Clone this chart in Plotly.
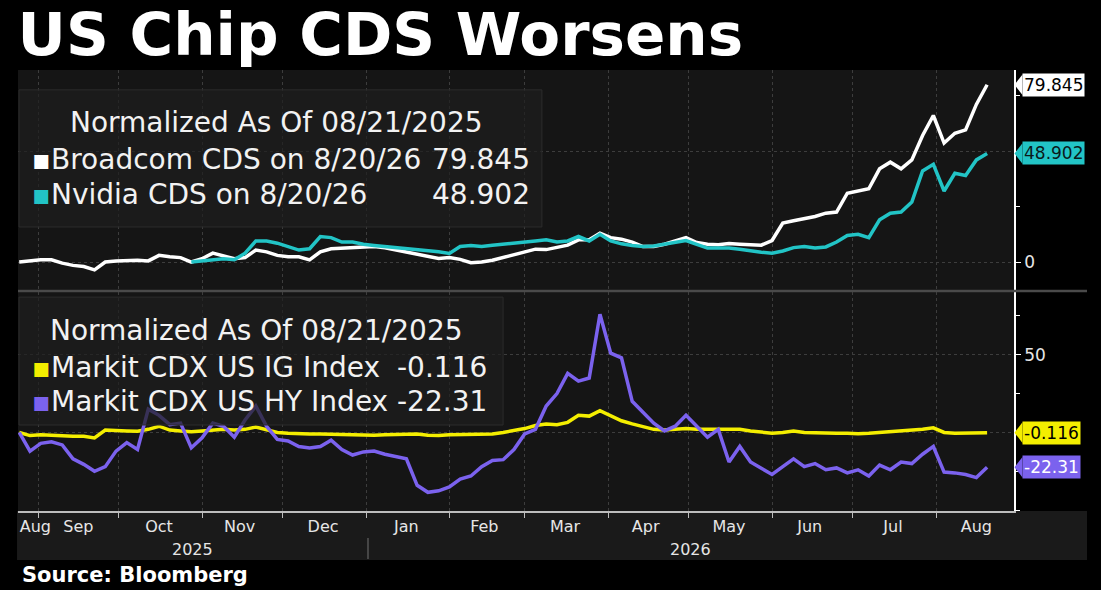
import pandas as pd
import plotly.graph_objects as go
from plotly.subplots import make_subplots

# sample dates, every 4 days
dates = pd.date_range("2025-08-25", periods=91, freq="4D")

broadcom = [0, 0.6, 1, 1, -0.5, -1.5, -2, -3.5, 0, 0.5,
            0.8, 0.8, 0.5, 3, 2.4, 2, 0, 1.5, 4, 2.8,
            1.5, 2, 5.4, 4.6, 3, 2.4, 2.4, 1, 4.6, 6,
            6.3, 6.3, 6.8, 7, 6.4, 5.5, 4.4, 3.4, 2.5, 1.6,
            2, 1.2, -0.3, 0, 0.8, 2, 3, 4.4, 5.8, 5.6,
            6.5, 7.6, 10, 10, 13, 11, 10.3, 9, 7, 7,
            8, 9.5, 11, 8.8, 8, 7.8, 8.3, 8, 7.8, 7.6,
            9.7, 17.6, 18.6, 19.4, 20.5, 22, 22.5, 31, 32, 33,
            42, 45, 42, 46, 57, 66, 53.6, 58, 59.5, 71,
            79.845]

nvidia = [None] * 16 + [
            0, 0.5, 0.8, 1.5,
            1, 4, 9.5, 9.5, 8.5, 7, 5.4, 6, 11.5, 11,
            9, 9, 8, 7.5, 7, 6.6, 6.3, 5.6, 5.2, 4.6,
            3.9, 7, 7.5, 7, 7.6, 8, 8.5, 9, 9.5, 10,
            9, 9.5, 11.5, 9.5, 12.5, 9.5, 8.2, 7.5, 7, 7.2,
            8, 9, 9.7, 8, 6.3, 6.3, 6.3, 5.8, 5, 4.4,
            4, 5, 6.5, 7, 6.3, 6.8, 9, 12, 12.5, 11,
            19, 22, 22.5, 27, 41, 44, 32, 40, 39, 46,
            48.902]

cdx_ig = [0, -2, -1.5, -2, -2, -2.5, -2.5, -3.5, 1.5, 1.5,
          1, 0.8, 2, 4, 1.5, 1, 0.5, 1, 1.5, 2,
          1.5, 2, 3.5, 2, 0, -0.5, -1, -1, -1, -1.2,
          -1.5, -1.5, -1.5, -1.8, -1.5, -1.5, -1.5, -1, -1.8, -2,
          -1.5, -1.5, -1, -1.5, -1, 0, 1, 2.5, 4.5, 5.5,
          5, 6.5, 11, 10.5, 14, 11, 7.5, 5.5, 3.5, 2,
          1.5, 2, 2.5, 2, 2, 2, 2.5, 2, 1, 0,
          -0.5, 0, 1, 0, -0.3, -0.5, -0.5, -0.5, -0.8, -0.5,
          0, 0.5, 1, 1, 2, 3, 0, -0.5, -0.3, 0,
          -0.116]

cdx_hy = [0, -12, -7, -6, -8, -17, -20.5, -25, -22, -12,
          -6.5, -11, 15, 11, 5, 6, -9.9, -3.5, 6, 4,
          -3, 8, 17, 4, -4.5, -5.5, -9, -10, -9, -5,
          -11, -14.5, -12.5, -12, -14, -15.5, -17, -34, -38.5, -37.5,
          -35, -30, -28, -22, -18, -17.5, -11, -1, 2, 17,
          25, 38, 33, 35, 76, 51, 48, 20, 13, 6,
          1, 4, 11, 4, -3, 2, -19, -9, -19, -23,
          -27, -22, -17, -22, -20, -24, -22.8, -26, -24, -28,
          -21, -24, -19, -20, -14, -9, -25.5, -26, -27, -29,
          -22.31]

month_starts = ["2025-09-01", "2025-10-01", "2025-11-01", "2025-12-01",
                "2026-01-01", "2026-02-01", "2026-03-01", "2026-04-01",
                "2026-05-01", "2026-06-01", "2026-07-01", "2026-08-01"]
month_label_pos = ["2025-08-31", "2025-09-16", "2025-10-16", "2025-11-15",
                   "2025-12-16", "2026-01-16", "2026-02-14", "2026-03-16",
                   "2026-04-15", "2026-05-16", "2026-06-15", "2026-07-16",
                   "2026-08-16"]
month_labels = ["Aug", "Sep", "Oct", "Nov", "Dec", "Jan", "Feb", "Mar",
                "Apr", "May", "Jun", "Jul", "Aug"]
year_labels = ["2025", "2026"]

WHITE = "#ffffff"
CYAN = "#22c4c6"
YELLOW = "#f4ee00"
PURPLE = "#7b62ee"
FONT = "DejaVu Sans"

fig = make_subplots(rows=2, cols=1, shared_xaxes=True)

fig.add_trace(go.Scatter(x=dates, y=broadcom, mode="lines",
                         line=dict(color=WHITE, width=3.5)), row=1, col=1)
fig.add_trace(go.Scatter(x=dates, y=nvidia, mode="lines",
                         line=dict(color=CYAN, width=3.5)), row=1, col=1)
fig.add_trace(go.Scatter(x=dates, y=cdx_ig, mode="lines",
                         line=dict(color=YELLOW, width=3.5)), row=2, col=1)
fig.add_trace(go.Scatter(x=dates, y=cdx_hy, mode="lines",
                         line=dict(color=PURPLE, width=3.5)), row=2, col=1)

x_range = ["2025-08-24 13:00", "2026-08-30 00:00"]
grid = dict(showgrid=True, gridcolor="#3d3d3d", griddash="dot", gridwidth=1)

fig.update_xaxes(range=x_range, showgrid=False, zeroline=False,
                 tickmode="array", tickvals=month_label_pos, ticktext=month_labels,
                 ticks="", tickfont=dict(family=FONT, size=16, color="#e6e6e6"))
fig.update_xaxes(showticklabels=False,
                 minor=dict(tickmode="array", tickvals=month_starts, ticks="", **grid),
                 row=1, col=1)
fig.update_xaxes(showline=True, linecolor="#bdbdbd", linewidth=1.5,
                 minor=dict(tickmode="array", tickvals=month_starts, ticks="outside",
                            ticklen=5, tickcolor="#bdbdbd", **grid),
                 row=2, col=1)

yax = dict(side="right", zeroline=False, showline=True, linecolor=WHITE, linewidth=1.5,
           ticks="outside", ticklen=5, tickcolor=WHITE,
           tickfont=dict(family=FONT, size=17, color="#e6e6e6"), **grid)
fig.update_yaxes(range=[-12.6, 86.5], tickmode="array", tickvals=[0, 50],
                 ticktext=["0", ""], domain=[0.5011, 1],
                 minor=dict(tickmode="array", tickvals=[25, 75], ticks="outside",
                            ticklen=4, tickcolor=WHITE, showgrid=False),
                 row=1, col=1, **yax)
fig.update_yaxes(range=[-50.5, 90.3], tickmode="array", tickvals=[0, 50],
                 ticktext=["", "50"], domain=[0, 0.4966],
                 minor=dict(tickmode="array", tickvals=[-50, -25, 25, 75],
                            ticks="outside", ticklen=4, tickcolor=WHITE, showgrid=False),
                 row=2, col=1, **yax)

shapes = []
annotations = []

# x-axis label band, panel separator, year divider
shapes.append(dict(type="rect", xref="paper", yref="paper", x0=-0.001, x1=1.0733,
                   y0=-0.111, y1=0, fillcolor="#1a1a1a", line_width=0, layer="below"))
shapes.append(dict(type="line", xref="paper", yref="paper", x0=0, x1=1.0733,
                   y0=0.4989, y1=0.4989, line=dict(color="#4a4a4a", width=2.5)))
shapes.append(dict(type="line", xref="paper", yref="paper", x0=0.3514, x1=0.3514,
                   y0=-0.061, y1=-0.109, line=dict(color="#555555", width=1.5)))
for txt, xp in zip(year_labels, [0.1747, 0.6747]):
    annotations.append(dict(text=txt, xref="paper", yref="paper", x=xp, y=-0.0884,
                            showarrow=False, xanchor="center", yanchor="middle",
                            font=dict(family=FONT, size=16, color="#e6e6e6")))

# legend boxes (semi transparent, over the lines)
box = dict(type="rect", xref="paper", yref="paper", fillcolor="rgba(30,30,30,0.72)",
           line=dict(color="#2c2c2c", width=1), layer="above")
shapes.append(dict(box, x0=0.001, x1=0.526, y0=0.644, y1=0.955))
shapes.append(dict(box, x0=0.001, x1=0.487, y0=0.195, y1=0.485))

leg_font = dict(family=FONT, size=28, color="#f2f2f2")


def add_text(txt, x, y, anchor="left"):
    annotations.append(dict(text=txt, xref="paper", yref="paper", x=x, y=y,
                            showarrow=False, xanchor=anchor, yanchor="middle",
                            font=leg_font))


def sq(color):
    return f"<span style='color:{color}'>▪</span>"


add_text("Normalized As Of 08/21/2025", 0.0502, 0.880)
add_text(sq(WHITE) + "Broadcom CDS on 8/20/26", 0.012, 0.796)
add_text(f"{broadcom[-1]:g}", 0.516, 0.796, "right")
add_text(sq(CYAN) + "Nvidia CDS on 8/20/26", 0.012, 0.7166)
add_text(f"{nvidia[-1]:g}", 0.516, 0.7166, "right")

add_text("Normalized As Of 08/21/2025", 0.0301, 0.4104)
add_text(sq(YELLOW) + "Markit CDX US IG Index", 0.012, 0.3265)
add_text(f"{cdx_ig[-1]:g}", 0.473, 0.3265, "right")
add_text(sq(PURPLE) + "Markit CDX US HY Index", 0.012, 0.2472)
add_text(f"{cdx_hy[-1]:g}", 0.473, 0.2472, "right")

# last-value tags on the right axis
tags = [(broadcom[-1], "y", WHITE, "#000000", 4.6),
        (nvidia[-1], "y", CYAN, "#0a1a1a", 4.6),
        (cdx_ig[-1], "y2", YELLOW, "#000000", 6.6),
        (cdx_hy[-1], "y2", PURPLE, "#ffffff", 6.6)]
for val, yref, bg, fg, half in tags:
    shapes.append(dict(type="path", xref="paper", yref=yref, fillcolor=bg, line_width=0,
                       path=f"M 1.0005,{val} L 1.0085,{val + half} L 1.0085,{val - half} Z"))
    annotations.append(dict(text=f"{val:g}", xref="paper", yref=yref, x=1.008, y=val,
                            showarrow=False, xanchor="left", yanchor="middle",
                            bgcolor=bg, borderpad=1,
                            font=dict(family=FONT, size=17, color=fg)))

annotations.append(dict(text="<b>Source: Bloomberg</b>", xref="paper", yref="paper",
                        x=0.002, y=-0.145, showarrow=False, xanchor="left",
                        yanchor="middle", font=dict(family=FONT, size=21, color=WHITE)))

fig.update_layout(
    width=1101, height=590,
    margin=dict(l=18, r=87, t=70, b=79),
    paper_bgcolor="#000000", plot_bgcolor="#151515",
    showlegend=False,
    title=dict(text="<b>US Chip CDS Worsens</b>", x=0.016, xanchor="left",
               y=0.942, yanchor="middle",
               font=dict(family=FONT, size=59.5, color=WHITE)),
    shapes=shapes, annotations=annotations,
)

# drop the default page margin so the figure fills the window
fig.write_html("out.html", config={"displayModeBar": False},
               post_script="document.body.style.margin='0';")
